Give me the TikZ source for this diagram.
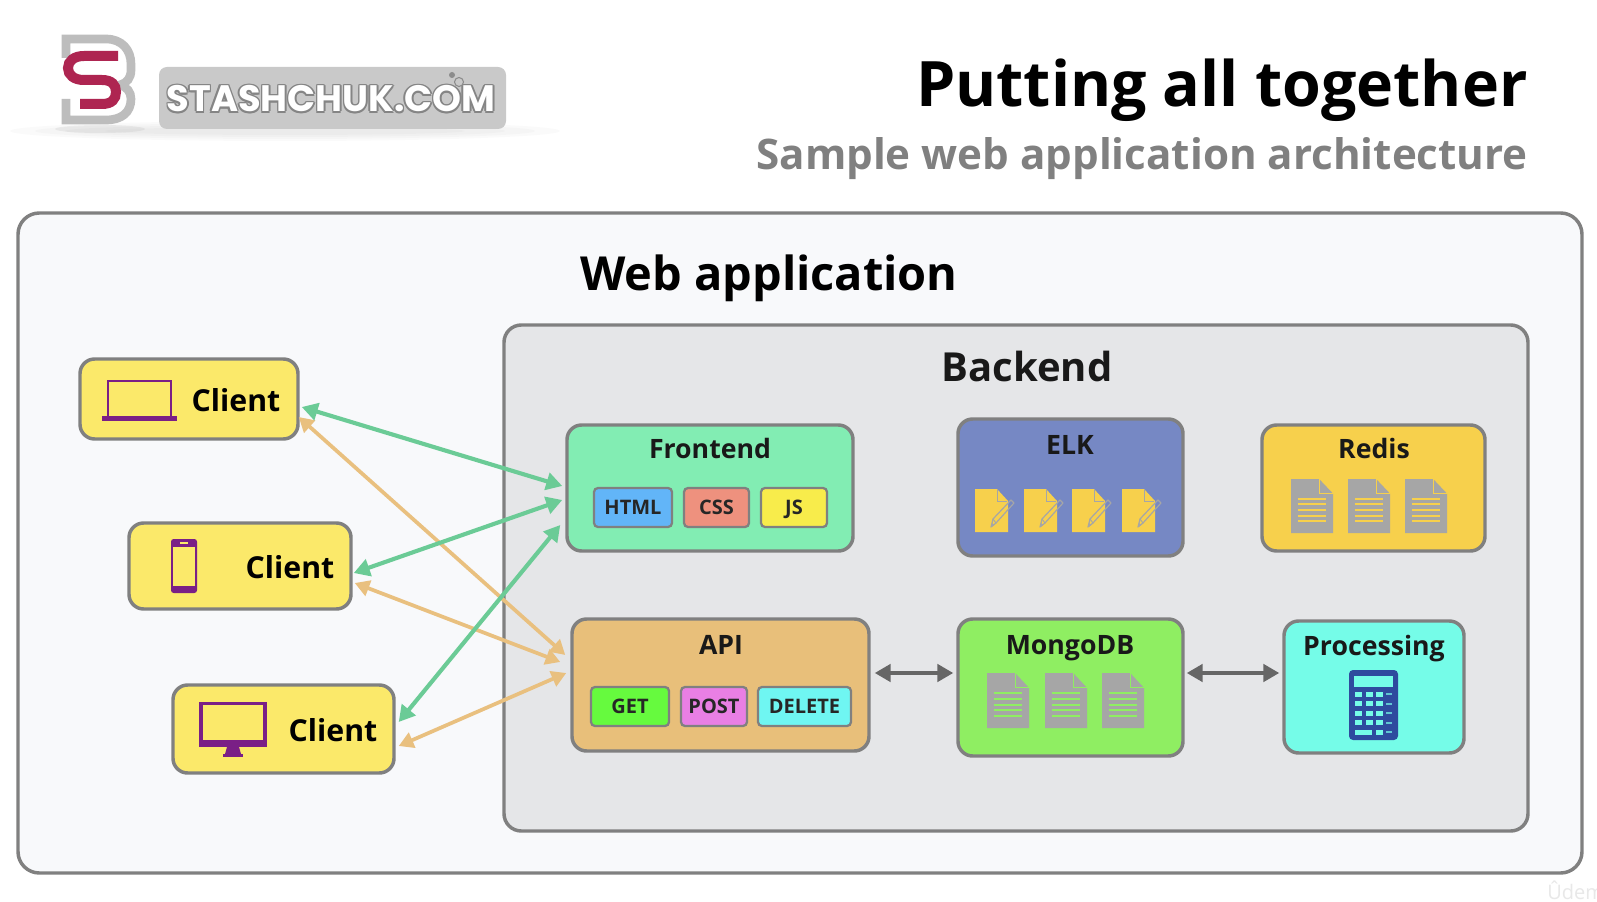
\documentclass[tikz,border=0pt]{standalone}
\usepackage{fontspec}
\setmainfont{Open Sans}
\newfontfamily\logofont{Poppins}
\usetikzlibrary{fit,arrows.meta}
\definecolor{cWebFill}{HTML}{F8F9FB}
\definecolor{cBackFill}{HTML}{E5E6E8}
\definecolor{cEdge}{HTML}{808080}
\definecolor{cClient}{HTML}{FBE96A}
\definecolor{cFront}{HTML}{82EDB3}
\definecolor{cElk}{HTML}{7688C4}
\definecolor{cRedis}{HTML}{F7D04C}
\definecolor{cApi}{HTML}{E8BF7A}
\definecolor{cMongo}{HTML}{8FEE62}
\definecolor{cProc}{HTML}{75FCE8}
\definecolor{cHtml}{HTML}{62B5F8}
\definecolor{cCss}{HTML}{EE917E}
\definecolor{cJs}{HTML}{F8EC4B}
\definecolor{cGet}{HTML}{66FA3E}
\definecolor{cPost}{HTML}{E97FE4}
\definecolor{cDel}{HTML}{6FF6F2}
\definecolor{cGreen}{HTML}{6BCB96}
\definecolor{cOrange}{HTML}{E9C07F}
\definecolor{cDark}{HTML}{666666}
\definecolor{cPurple}{HTML}{7A1F86}
\definecolor{cDoc}{HTML}{A6A6A6}
\definecolor{cCalc}{HTML}{2E4B9E}
\definecolor{cPink}{HTML}{AE2551}
\definecolor{cLogoGray}{HTML}{BDBDBD}
\tikzset{
  panel/.style={draw=cEdge,line width=2.6pt,rounded corners=11pt,inner sep=0pt},
  chip/.style={draw=cEdge,line width=1.7pt,rounded corners=3pt,inner sep=0pt},
  boxtitle/.style={font=\bfseries\fontsize{20}{24}\selectfont,text=black!90,inner sep=0pt,anchor=center},
  chiptext/.style={font=\bfseries\fontsize{15}{18}\selectfont,text=black!85,inner sep=0pt,anchor=center,text height=11pt,text depth=0pt},
  clienttext/.style={font=\bfseries\fontsize{22.7}{27}\selectfont,text=black,inner sep=0pt,anchor=center},
  greenarrow/.style={draw=cGreen,line width=3.1pt,{Triangle[length=12pt,width=13pt]}-{Triangle[length=12pt,width=13pt]}},
  orangearrow/.style={draw=cOrange,line width=2.8pt,{Triangle[length=11pt,width=12pt]}-{Triangle[length=11pt,width=12pt]}},
  darkarrow/.style={draw=cDark,line width=2.9pt,{Triangle[length=12pt,width=13pt]}-{Triangle[length=12pt,width=13pt]}},
}
\newcommand{\panelbox}[6]{\node[panel,fill=#6,fit={(#2,#3)(#4,#5)}] (#1) {};}
\newcommand{\chipbox}[7]{\node[chip,fill=#6,fit={(#2,#3)(#4,#5)}] (#1) {};
  \node[chiptext] (#1text) at (#1.center) {#7};}
% doc icon: x y w h background
\newcommand{\docicon}[5]{%
  \begin{scope}[shift={(#1,#2)},x=#3*0.75pt,y=-#4*0.75pt]
    \fill[cDoc] (0,0) -- (.67,0) -- (1,.27) -- (1,1) -- (0,1) -- cycle;
    \draw[#5,line width=.7pt] (.67,0) -- (.67,.27) -- (1,.27);
    \foreach \yy in {.37,.47,.575,.68,.78}{\draw[#5,line width=1.5pt] (.16,\yy) -- (.84,\yy);}
  \end{scope}}
% pen file icon: x y
\newcommand{\penfile}[2]{%
  \begin{scope}[shift={(#1,#2)}]
    \fill[cRedis] (0,0) -- (22,0) -- (33,12) -- (33,43) -- (0,43) -- cycle;
    \draw[cDoc,line width=.7pt] (22,1) -- (22,12) -- (32,12);
    \draw[cDoc,line width=.9pt,line join=round] (16,38) -- (18,30) -- (36,11) -- (39,14) -- (21,34) -- cycle;
    \draw[cDoc,line width=.7pt] (18,30) -- (21,34);
    \fill[cDoc] (16,38) -- (17,34) -- (19,36) -- cycle;
  \end{scope}}
\begin{document}
\begin{tikzpicture}[x=0.75pt,y=-0.75pt]
\useasboundingbox (0,0) rectangle (1597,902);
\fill[white] (0,0) rectangle (1597,902);

% logo
\foreach \rx/\ry in {275/10,250/8,220/6,180/4}{
  \fill[black,opacity=.018] (285,131) ellipse [x radius=\rx,y radius=\ry];}
\fill[black,opacity=.05] (100,129) ellipse [x radius=45,y radius=4];
\draw[cLogoGray,line width=6.5pt,line join=miter] (66,58) -- (66,39) -- (106,39)
  .. controls (122,39) and (131,50) .. (131,64) -- (131,70)
  .. controls (131,78) and (127,83) .. (120,85)
  .. controls (127,87) and (131,92) .. (131,99)
  .. controls (131,112) and (122,120) .. (106,120) -- (66,120) -- (66,99);
\draw[cPink,line width=7.5pt] (118,56) -- (84,56)
  .. controls (74,56) and (68,61) .. (68,68)
  .. controls (68,75) and (74,80) .. (84,80) -- (102,80)
  .. controls (112,80) and (116,85) .. (116,92)
  .. controls (116,99) and (112,104) .. (102,104) -- (80,104);
\fill[black!21,rounded corners=6pt] (159,67) rectangle (506,129);
\foreach \dx/\dy [count=\i] in {1.6/0,-1.6/0,0/1.6,0/-1.6,1.1/1.1,-1.1/1.1,1.1/-1.1,-1.1/-1.1}{
  \node[inner sep=0pt,text=black!48] (logoout\i) at (331+\dx,99+\dy) {\logofont\bfseries\fontsize{27.6}{30}\selectfont STASHCHUK.COM};}
\node[inner sep=0pt,text=white] (logotext) at (331,99) {\logofont\bfseries\fontsize{27.6}{30}\selectfont STASHCHUK.COM};
\fill[black!45] (452,75) circle (3);
\draw[black!45,line width=.8pt] (459,82) circle (4.5);

% titles
\node[inner sep=0pt,anchor=east,font=\bfseries\fontsize{47}{56}\selectfont,text=black] (title) at (1528,90) {Putting all together};
\node[inner sep=0pt,anchor=east,font=\bfseries\fontsize{31.6}{38}\selectfont,text=black!50] (subtitle) at (1528,159) {Sample web application architecture};

% containers
\node[panel,rounded corners=16pt,fill=cWebFill,fit={(18,213)(1582,873)}] (web) {};
\node[panel,rounded corners=13pt,fill=cBackFill,fit={(504,325)(1528,831)}] (backend) {};
\node[inner sep=0pt,font=\bfseries\fontsize{35.2}{42}\selectfont,text=black] (webtitle) at (769,278) {Web application};
\node[inner sep=0pt,font=\bfseries\fontsize{30}{36}\selectfont,text=black!90] (backendtitle) at (1027,367) {Backend};

% watermark
\node[inner sep=0pt,anchor=west,font=\fontsize{15}{18}\selectfont,text=black!9] (udemy) at (1547,893) {Ûdemy};

% clients
\panelbox{c1}{80}{359}{298}{439}{cClient}
\panelbox{c2}{129}{523}{351}{609}{cClient}
\panelbox{c3}{173}{685}{394}{773}{cClient}
\node[clienttext] (c1t) at (236,400) {Client};
\node[clienttext] (c2t) at (290,567) {Client};
\node[clienttext] (c3t) at (333,730) {Client};
% laptop
\draw[cPurple,line width=1.8pt] (108,416) -- (108,381) -- (171,381) -- (171,416);
\fill[cPurple] (102,416) rectangle (177,421);
% phone
\fill[cPurple,rounded corners=2pt] (171,539) rectangle (197,593);
\fill[cClient] (173,547) rectangle (195,586);
\fill[cClient] (180,542) rectangle (188,543.5);
% monitor
\fill[cPurple] (199,702) rectangle (267,747);
\fill[cClient] (203,705) rectangle (263,740);
\fill[cPurple] (227,747) -- (239,747) -- (241,754) -- (225,754) -- cycle;
\fill[cPurple] (223,754) rectangle (243,757);

% backend boxes
\panelbox{fe}{567}{425}{853}{551}{cFront}
\panelbox{elk}{958}{419}{1183}{556}{cElk}
\panelbox{redis}{1262}{425}{1485}{551}{cRedis}
\panelbox{api}{572}{619}{869}{751}{cApi}
\panelbox{mongo}{958}{619}{1183}{756}{cMongo}
\panelbox{proc}{1284}{621}{1464}{753}{cProc}
\node[boxtitle] (fet) at (710,449) {Frontend};
\node[boxtitle] (elkt) at (1070,445) {ELK};
\node[boxtitle] (redist) at (1374,449) {Redis};
\node[boxtitle] (apit) at (721,645) {API};
\node[boxtitle] (mongot) at (1070,648) {MongoDB};
\node[boxtitle] (proct) at (1374,649) {Processing};

\chipbox{html}{594}{488}{672}{527}{cHtml}{HTML}
\chipbox{css}{684}{488}{749}{527}{cCss}{CSS}
\chipbox{js}{761}{488}{827}{527}{cJs}{JS}
\chipbox{get}{591}{687}{669}{726}{cGet}{GET}
\chipbox{post}{681}{687}{747}{726}{cPost}{POST}
\chipbox{del}{758}{687}{851}{726}{cDel}{DELETE}

\penfile{975}{489}
\penfile{1024}{489}
\penfile{1072}{489}
\penfile{1122}{489}
\docicon{1291}{479}{42}{54}{cRedis}
\docicon{1348}{479}{42}{54}{cRedis}
\docicon{1405}{479}{42}{54}{cRedis}
\docicon{987}{673}{42}{55}{cMongo}
\docicon{1045}{673}{42}{55}{cMongo}
\docicon{1102}{673}{42}{55}{cMongo}

% calculator
\fill[cCalc,rounded corners=3pt] (1349,670) rectangle (1398,740);
\fill[cProc] (1354,676) rectangle (1393,687);
\foreach \yy in {694,703.5,713,722.5}{
  \foreach \xx in {1355,1365.5,1375.5}{\fill[cProc] (\xx,\yy-2.5) rectangle +(7,5);}
  \fill[cProc!70!cCalc] (1386,\yy-1) rectangle +(6,2);}
\fill[cProc] (1355,729.5) rectangle (1372,734.5);
\fill[cProc] (1375.5,729.5) rectangle +(7,5);
\fill[cProc!70!cCalc] (1386,731) rectangle +(6,2);

% connectors
\draw[orangearrow] ([shift={(-1,18)}]c1.east) -- ([shift={(-5,-30)}]api.west);
\draw[orangearrow] ([shift={(2,17)}]c2.east) -- ([shift={(-10,-23)}]api.west);
\draw[orangearrow] ([shift={(3,17)}]c3.east) -- ([shift={(-4,-12)}]api.west);
\draw[greenarrow] ([shift={(2,8)}]c1.east) -- ([shift={(-3,-2)}]fe.west);
\draw[greenarrow] ([shift={(1,7)}]c2.east) -- ([shift={(-3,12)}]fe.west);
\draw[greenarrow] ([shift={(3,-7)}]c3.east) -- ([shift={(-5,37)}]fe.west);
\draw[darkarrow] ([shift={(4,-12)}]api.east) -- ([shift={(-3,-14.5)}]mongo.west);
\draw[darkarrow] ([shift={(2,-14.5)}]mongo.east) -- ([shift={(-3,-14)}]proc.west);
\end{tikzpicture}
\end{document}
